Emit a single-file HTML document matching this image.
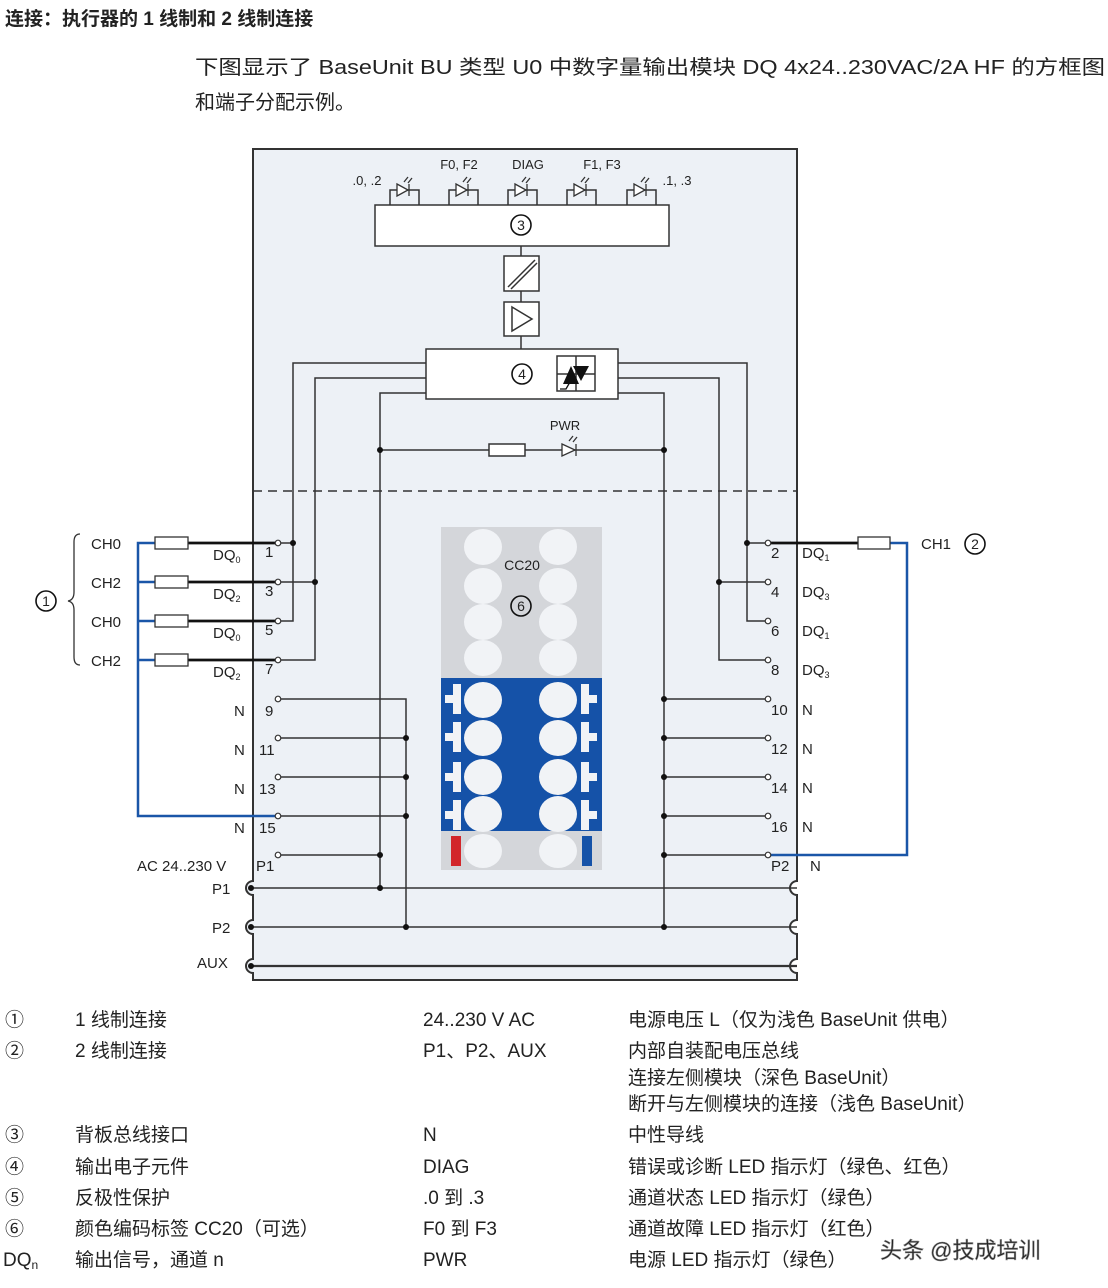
<!DOCTYPE html>
<html><head><meta charset="utf-8"><style>
html,body{margin:0;padding:0;background:#fff;}
svg{display:block;}
text{font-family:"Liberation Sans","Noto Sans CJK SC",sans-serif;fill:#222;}
</style></head><body>
<svg width="1108" height="1288" viewBox="0 0 1108 1288" xmlns="http://www.w3.org/2000/svg">
<rect width="1108" height="1288" fill="#fff"/>
<!-- title -->
<text x="5" y="25" font-size="19" font-weight="bold" fill="#111">连接：执行器的 1 线制和 2 线制连接</text>
<text x="195" y="74" font-size="20" textLength="910" lengthAdjust="spacingAndGlyphs">下图显示了 BaseUnit BU 类型 U0 中数字量输出模块 DQ 4x24..230VAC/2A HF 的方框图</text>
<text x="195" y="109" font-size="20">和端子分配示例。</text>

<!-- module body -->
<path d="M253,149 H797 V881 A7,7 0 0 0 797,895 V920 A7,7 0 0 0 797,934 V959 A7,7 0 0 0 797,973 V980 H253 V973 A7,7 0 0 1 253,959 V934 A7,7 0 0 1 253,920 V895 A7,7 0 0 1 253,881 Z" fill="#edf1f6" stroke="#333" stroke-width="2"/>
<line x1="253" y1="491" x2="797" y2="491" stroke="#333" stroke-width="1.5" stroke-dasharray="9,6"/>

<g stroke="#333" fill="none" stroke-width="1.5">
<g id="leds">
<path d="M390,205 V190 H419 V205"/><path d="M449,205 V190 H478 V205"/><path d="M508,205 V190 H537 V205"/><path d="M567,205 V190 H596 V205"/><path d="M627,205 V190 H656 V205"/>
</g>
<rect x="375" y="205" width="294" height="41" fill="#fff"/>
<line x1="521" y1="246" x2="521" y2="256"/>
<rect x="504" y="256" width="35" height="35" fill="#fff"/>
<line x1="508" y1="287" x2="535" y2="260"/><line x1="511" y1="289" x2="537" y2="263"/>
<line x1="521" y1="291" x2="521" y2="302"/>
<rect x="504" y="302" width="35" height="34" fill="#fff"/>
<path d="M512,307 L532,319 L512,331 Z"/>
<line x1="521" y1="336" x2="521" y2="349"/>
<rect x="426" y="349" width="192" height="50" fill="#fff"/>
<rect x="557" y="356" width="38" height="35" fill="#fff"/>
<line x1="576" y1="356" x2="576" y2="391"/><line x1="557" y1="374" x2="595" y2="374"/>
<path d="M426,363 H293 V621 H278"/>
<path d="M426,378 H315 V660 H278"/>
<path d="M426,393 H380 V888"/>
<path d="M618,363 H747 V621 H768"/>
<path d="M618,378 H719 V660 H768"/>
<path d="M618,393 H664 V927"/>
<line x1="293" y1="543" x2="278" y2="543"/>
<line x1="315" y1="582" x2="278" y2="582"/>
<line x1="747" y1="543" x2="768" y2="543"/>
<line x1="719" y1="582" x2="768" y2="582"/>
<line x1="380" y1="450" x2="664" y2="450"/>
<rect x="489" y="444" width="36" height="12" fill="#fff"/>
<path d="M278,699 H406 V927"/>
<line x1="278" y1="738" x2="406" y2="738"/>
<line x1="278" y1="777" x2="406" y2="777"/>
<line x1="278" y1="816" x2="406" y2="816"/>
<line x1="278" y1="855" x2="380" y2="855"/>
<line x1="664" y1="699" x2="768" y2="699"/>
<line x1="664" y1="738" x2="768" y2="738"/>
<line x1="664" y1="777" x2="768" y2="777"/>
<line x1="664" y1="816" x2="768" y2="816"/>
<line x1="664" y1="855" x2="768" y2="855"/>
<line x1="250" y1="888" x2="797" y2="888"/>
<line x1="250" y1="927" x2="797" y2="927"/>
<line x1="250" y1="966" x2="797" y2="966" stroke-width="2.2"/>
</g>
<g fill="#fff" stroke="#333" stroke-width="1.3">
<path d="M397,184 L408,190 L397,196 Z"/><line x1="409" y1="184" x2="409" y2="196"/><path d="M404,182 l4,-5 M408,183 l4,-5" fill="none"/>
<path d="M456,184 L467,190 L456,196 Z"/><line x1="468" y1="184" x2="468" y2="196"/><path d="M463,182 l4,-5 M467,183 l4,-5" fill="none"/>
<path d="M515,184 L526,190 L515,196 Z"/><line x1="527" y1="184" x2="527" y2="196"/><path d="M522,182 l4,-5 M526,183 l4,-5" fill="none"/>
<path d="M574,184 L585,190 L574,196 Z"/><line x1="586" y1="184" x2="586" y2="196"/><path d="M581,182 l4,-5 M585,183 l4,-5" fill="none"/>
<path d="M634,184 L645,190 L634,196 Z"/><line x1="646" y1="184" x2="646" y2="196"/><path d="M641,182 l4,-5 M645,183 l4,-5" fill="none"/>
<path d="M562,444 L575,450 L562,456 Z"/><line x1="576" y1="444" x2="576" y2="456"/><path d="M569,441 l4,-5 M573,442 l4,-5" fill="none"/>
</g>
<path d="M563,384 L571,366 L579,384 Z M573,366 L589,366 L581,381 Z" fill="#111"/>
<path d="M560,389 H566 L570,382" fill="none" stroke="#111" stroke-width="1.3"/>
<g fill="#fff" stroke="#111" stroke-width="1.6">
<circle cx="521" cy="225" r="10"/><circle cx="522" cy="374" r="10"/>
<circle cx="46" cy="601" r="10"/><circle cx="975" cy="544" r="10"/>
</g>
<g font-size="14" text-anchor="middle">
<text x="521" y="230">3</text><text x="522" y="379">4</text><text x="46" y="606">1</text><text x="975" y="549">2</text>
</g>
<g font-size="13" text-anchor="middle">
<text x="367" y="185">.0, .2</text><text x="459" y="169">F0, F2</text><text x="528" y="169">DIAG</text><text x="602" y="169">F1, F3</text><text x="677" y="185">.1, .3</text>
<text x="565" y="430">PWR</text>
</g>

<rect x="441" y="527" width="161" height="343" fill="#d4d6da"/>
<rect x="441" y="678" width="161" height="153" fill="#1552a8"/>
<g fill="#f1f3f6">
<ellipse cx="483" cy="547" rx="19" ry="18"/><ellipse cx="558" cy="547" rx="19" ry="18"/>
<ellipse cx="483" cy="586" rx="19" ry="18"/><ellipse cx="558" cy="586" rx="19" ry="18"/>
<ellipse cx="483" cy="622" rx="19" ry="18"/><ellipse cx="558" cy="622" rx="19" ry="18"/>
<ellipse cx="483" cy="658" rx="19" ry="18"/><ellipse cx="558" cy="658" rx="19" ry="18"/>
<ellipse cx="483" cy="700" rx="19" ry="18"/><ellipse cx="558" cy="700" rx="19" ry="18"/>
<ellipse cx="483" cy="738" rx="19" ry="18"/><ellipse cx="558" cy="738" rx="19" ry="18"/>
<ellipse cx="483" cy="777" rx="19" ry="18"/><ellipse cx="558" cy="777" rx="19" ry="18"/>
<ellipse cx="483" cy="814" rx="19" ry="18"/><ellipse cx="558" cy="814" rx="19" ry="18"/>
<ellipse cx="483" cy="851" rx="19" ry="17"/><ellipse cx="558" cy="851" rx="19" ry="17"/>
<rect x="453" y="684" width="8" height="30"/><rect x="445" y="695" width="10" height="8"/>
<rect x="453" y="722" width="8" height="30"/><rect x="445" y="733" width="10" height="8"/>
<rect x="453" y="762" width="8" height="30"/><rect x="445" y="773" width="10" height="8"/>
<rect x="453" y="800" width="8" height="30"/><rect x="445" y="811" width="10" height="8"/>
<rect x="581" y="684" width="8" height="30"/><rect x="587" y="695" width="10" height="8"/>
<rect x="581" y="722" width="8" height="30"/><rect x="587" y="733" width="10" height="8"/>
<rect x="581" y="762" width="8" height="30"/><rect x="587" y="773" width="10" height="8"/>
<rect x="581" y="800" width="8" height="30"/><rect x="587" y="811" width="10" height="8"/>
</g>
<rect x="451" y="836" width="10" height="30" fill="#d2262a"/>
<rect x="582" y="836" width="10" height="30" fill="#1552a8"/>
<text x="522" y="570" font-size="14" text-anchor="middle">CC20</text>
<circle cx="521" cy="606" r="10" fill="none" stroke="#111" stroke-width="1.6"/>
<text x="521" y="611" font-size="14" text-anchor="middle">6</text>

<g stroke="#1a56a8" stroke-width="2.5" fill="none">
<path d="M155,543 H138 V816 H278"/>
<line x1="138" y1="582" x2="155" y2="582"/><line x1="138" y1="621" x2="155" y2="621"/><line x1="138" y1="660" x2="155" y2="660"/>
<path d="M890,543 H907 V855 H768"/>
</g>
<g stroke="#111" stroke-width="2.8">
<line x1="188" y1="543" x2="278" y2="543"/><line x1="188" y1="582" x2="278" y2="582"/>
<line x1="188" y1="621" x2="278" y2="621"/><line x1="188" y1="660" x2="278" y2="660"/>
<line x1="768" y1="543" x2="858" y2="543"/>
</g>
<g fill="#fff" stroke="#333" stroke-width="1.3">
<rect x="155" y="537" width="33" height="12"/><rect x="155" y="576" width="33" height="12"/>
<rect x="155" y="615" width="33" height="12"/><rect x="155" y="654" width="33" height="12"/>
<rect x="858" y="537" width="32" height="12"/>
</g>
<path d="M80,534 Q74,534 74,542 V592 Q74,600 68,601 Q74,602 74,610 V657 Q74,665 80,665" fill="none" stroke="#333" stroke-width="1.3"/>
<g fill="#fff" stroke="#333" stroke-width="1.2">
<circle cx="278" cy="543" r="2.8"/><circle cx="278" cy="582" r="2.8"/><circle cx="278" cy="621" r="2.8"/><circle cx="278" cy="660" r="2.8"/>
<circle cx="278" cy="699" r="2.8"/><circle cx="278" cy="738" r="2.8"/><circle cx="278" cy="777" r="2.8"/><circle cx="278" cy="816" r="2.8"/><circle cx="278" cy="855" r="2.8"/>
<circle cx="768" cy="543" r="2.8"/><circle cx="768" cy="582" r="2.8"/><circle cx="768" cy="621" r="2.8"/><circle cx="768" cy="660" r="2.8"/>
<circle cx="768" cy="699" r="2.8"/><circle cx="768" cy="738" r="2.8"/><circle cx="768" cy="777" r="2.8"/><circle cx="768" cy="816" r="2.8"/><circle cx="768" cy="855" r="2.8"/>
</g>
<g fill="#111">
<circle cx="293" cy="543" r="3"/><circle cx="315" cy="582" r="3"/><circle cx="747" cy="543" r="3"/><circle cx="719" cy="582" r="3"/>
<circle cx="380" cy="450" r="3"/><circle cx="664" cy="450" r="3"/>
<circle cx="406" cy="738" r="3"/><circle cx="406" cy="777" r="3"/><circle cx="406" cy="816" r="3"/><circle cx="406" cy="927" r="3"/>
<circle cx="380" cy="855" r="3"/><circle cx="380" cy="888" r="3"/>
<circle cx="664" cy="699" r="3"/><circle cx="664" cy="738" r="3"/><circle cx="664" cy="777" r="3"/><circle cx="664" cy="816" r="3"/><circle cx="664" cy="855" r="3"/><circle cx="664" cy="927" r="3"/>
<circle cx="251" cy="888" r="3"/><circle cx="251" cy="927" r="3"/><circle cx="251" cy="966" r="3"/>
</g>
<g font-size="15">
<text x="91" y="549">CH0</text><text x="91" y="588">CH2</text><text x="91" y="627">CH0</text><text x="91" y="666">CH2</text>
<text x="213" y="560">DQ<tspan font-size="9" dy="3">0</tspan></text>
<text x="213" y="599">DQ<tspan font-size="9" dy="3">2</tspan></text>
<text x="213" y="638">DQ<tspan font-size="9" dy="3">0</tspan></text>
<text x="213" y="677">DQ<tspan font-size="9" dy="3">2</tspan></text>
<text x="265" y="557">1</text><text x="265" y="596">3</text><text x="265" y="635">5</text><text x="265" y="674">7</text>
<text x="265" y="716">9</text><text x="259" y="755">11</text><text x="259" y="794">13</text><text x="259" y="833">15</text>
<text x="234" y="716">N</text><text x="234" y="755">N</text><text x="234" y="794">N</text><text x="234" y="833">N</text>
<text x="137" y="871">AC 24..230 V</text><text x="256" y="871">P1</text>
<text x="212" y="894">P1</text><text x="212" y="933">P2</text><text x="197" y="968">AUX</text>
<text x="771" y="558">2</text><text x="771" y="597">4</text><text x="771" y="636">6</text><text x="771" y="675">8</text>
<text x="771" y="715">10</text><text x="771" y="754">12</text><text x="771" y="793">14</text><text x="771" y="832">16</text>
<text x="771" y="871">P2</text><text x="810" y="871">N</text>
<text x="802" y="558">DQ<tspan font-size="9" dy="3">1</tspan></text>
<text x="802" y="597">DQ<tspan font-size="9" dy="3">3</tspan></text>
<text x="802" y="636">DQ<tspan font-size="9" dy="3">1</tspan></text>
<text x="802" y="675">DQ<tspan font-size="9" dy="3">3</tspan></text>
<text x="802" y="715">N</text><text x="802" y="754">N</text><text x="802" y="793">N</text><text x="802" y="832">N</text>
<text x="921" y="549">CH1</text>
</g>

<g font-size="19">
<text x="5" y="1026">①</text><text x="75" y="1026">1 线制连接</text><text x="423" y="1026">24..230 V AC</text><text x="628" y="1026">电源电压 L（仅为浅色 BaseUnit 供电）</text>
<text x="5" y="1057">②</text><text x="75" y="1057">2 线制连接</text><text x="423" y="1057">P1、P2、AUX</text><text x="628" y="1057">内部自装配电压总线</text>
<text x="628" y="1084">连接左侧模块（深色 BaseUnit）</text>
<text x="628" y="1110">断开与左侧模块的连接（浅色 BaseUnit）</text>
<text x="5" y="1141">③</text><text x="75" y="1141">背板总线接口</text><text x="423" y="1141">N</text><text x="628" y="1141">中性导线</text>
<text x="5" y="1173">④</text><text x="75" y="1173">输出电子元件</text><text x="423" y="1173">DIAG</text><text x="628" y="1173">错误或诊断 LED 指示灯（绿色、红色）</text>
<text x="5" y="1204">⑤</text><text x="75" y="1204">反极性保护</text><text x="423" y="1204">.0 到 .3</text><text x="628" y="1204">通道状态 LED 指示灯（绿色）</text>
<text x="5" y="1235">⑥</text><text x="75" y="1235">颜色编码标签 CC20（可选）</text><text x="423" y="1235">F0 到 F3</text><text x="628" y="1235">通道故障 LED 指示灯（红色）</text>
<text x="3" y="1266">DQ<tspan font-size="12" dy="3">n</tspan></text><text x="75" y="1266">输出信号，通道 n</text><text x="423" y="1266">PWR</text><text x="628" y="1266">电源 LED 指示灯（绿色）</text>
</g>
<text x="880" y="1258" font-size="22" fill="#fff" stroke="#888" stroke-width="0.6">头条 @技成培训</text>
</svg>
</body></html>
